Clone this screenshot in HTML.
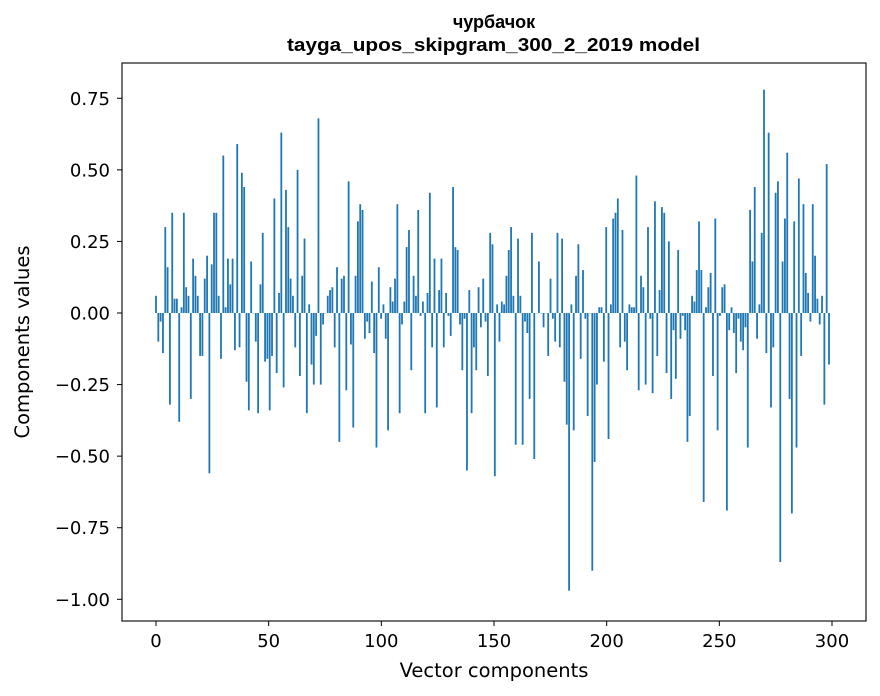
<!DOCTYPE html>
<html><head><meta charset="utf-8"><style>
body{margin:0;background:#fff;}
svg{display:block;font-family:"DejaVu Sans","Liberation Sans",sans-serif;}
</style></head><body>
<svg id="s" width="880" height="696" viewBox="0 0 880 696" xmlns="http://www.w3.org/2000/svg">
<rect width="880" height="696" fill="#fff"/>
<text x="494" y="28" text-anchor="middle" font-size="18" font-weight="bold" font-family="Liberation Sans, sans-serif">чурбачок</text>
<text x="287" y="51" font-size="18" font-weight="bold" font-family="Liberation Sans, sans-serif" textLength="413" lengthAdjust="spacingAndGlyphs">tayga_upos_skipgram_300_2_2019 model</text>
<g id="bars" fill="#1f77b4"></g>
<rect x="122" y="63" width="744" height="558" fill="none" stroke="#000" stroke-width="1.1"/>
<g id="ax" font-size="18"></g>
<text x="494" y="677" text-anchor="middle" font-size="19.5">Vector components</text>
<text transform="translate(29,342) rotate(-90)" text-anchor="middle" font-size="19.5">Components values</text>
</svg>
<script>
var v=[0.06,-0.10,-0.03,-0.14,0.30,0.16,-0.32,0.35,0.05,0.05,-0.38,0.02,0.35,0.09,0.06,-0.30,0.19,0.13,0.06,-0.15,-0.15,0.12,0.20,-0.56,0.17,0.35,0.35,0.06,-0.16,0.55,0.02,0.19,0.10,0.19,-0.13,0.59,-0.12,0.49,0.44,-0.24,-0.34,0.18,0.0,-0.10,-0.35,0.10,0.28,-0.17,-0.16,-0.34,-0.15,0.40,-0.21,0.07,0.63,-0.26,0.43,0.30,0.12,0.06,-0.12,0.50,-0.22,0.13,0.26,-0.35,0.03,-0.18,-0.25,-0.08,0.68,-0.25,-0.04,0.0,0.06,0.08,0.09,-0.12,0.16,-0.45,0.12,0.13,-0.27,0.46,-0.11,-0.40,0.13,0.32,0.38,0.36,-0.09,-0.03,-0.07,0.11,-0.14,-0.47,0.16,-0.02,0.03,-0.09,-0.41,0.09,0.04,0.12,0.38,-0.35,-0.04,0.04,0.23,0.29,-0.20,0.13,0.06,0.36,-0.01,0.04,-0.35,0.07,0.42,-0.12,0.19,-0.33,0.08,0.19,-0.12,0.07,-0.01,-0.08,0.44,0.23,0.22,-0.04,-0.20,-0.02,-0.55,0.08,-0.35,-0.12,-0.20,0.09,-0.05,0.12,-0.03,-0.22,0.28,0.24,-0.57,0.03,-0.10,0.04,0.03,0.13,0.22,0.30,0.06,-0.46,0.26,0.06,-0.46,-0.03,-0.07,-0.30,0.28,-0.51,0.0,0.18,0.0,-0.05,0.0,-0.15,0.12,-0.02,-0.10,0.28,-0.12,0.26,-0.24,-0.39,-0.97,0.03,-0.41,0.13,0.24,-0.16,0.15,-0.02,-0.36,0.0,-0.90,-0.52,-0.25,0.02,0.02,-0.17,0.30,-0.44,0.03,0.33,0.35,0.40,-0.12,0.29,-0.10,-0.20,0.03,0.02,0.02,0.48,-0.27,0.13,0.09,-0.25,0.30,-0.02,-0.28,0.39,-0.15,0.08,0.37,0.35,-0.21,0.25,-0.30,-0.06,-0.23,0.22,-0.09,-0.01,-0.06,-0.45,-0.36,0.06,0.04,0.15,0.32,0.15,-0.66,0.02,0.09,0.14,-0.22,0.33,-0.41,-0.01,0.09,0.10,-0.69,-0.06,0.02,-0.07,-0.21,-0.02,-0.10,-0.13,-0.05,-0.47,0.36,0.18,0.44,-0.09,0.03,0.28,0.78,-0.14,0.63,-0.33,-0.12,0.42,0.46,-0.87,0.18,0.33,0.56,-0.30,-0.70,0.32,-0.47,0.47,-0.15,0.38,0.14,0.07,-0.03,0.38,0.20,0.05,-0.04,0.06,-0.32,0.52,-0.18];
var n=v.length,h='',y0=313,k=286.3;
for(var i=0;i<n;i++){var x=156+i*(673/(n-1))-0.9;var y=v[i]>=0?y0-v[i]*k:y0;var hh=Math.abs(v[i])*k;h+='<rect x="'+x.toFixed(2)+'" y="'+y.toFixed(2)+'" width="1.8" height="'+Math.max(hh,0.3).toFixed(2)+'"/>';}
document.getElementById('bars').innerHTML=h;
var a='';
[0,50,100,150,200,250,300].forEach(function(t){var x=156+t*2.2533;a+='<line x1="'+x+'" y1="621" x2="'+x+'" y2="626" stroke="#000"/><text x="'+x+'" y="647" text-anchor="middle">'+t+'</text>';});
[0.75,0.5,0.25,0,-0.25,-0.5,-0.75,-1].forEach(function(t){var y=y0-t*k;var s=t.toFixed(2).replace('-','\u2212');a+='<line x1="117" y1="'+y+'" x2="122" y2="'+y+'" stroke="#000"/><text x="110" y="'+(y+6.5)+'" text-anchor="end">'+s+'</text>';});
document.getElementById('ax').innerHTML=a;
</script>
</body></html>
